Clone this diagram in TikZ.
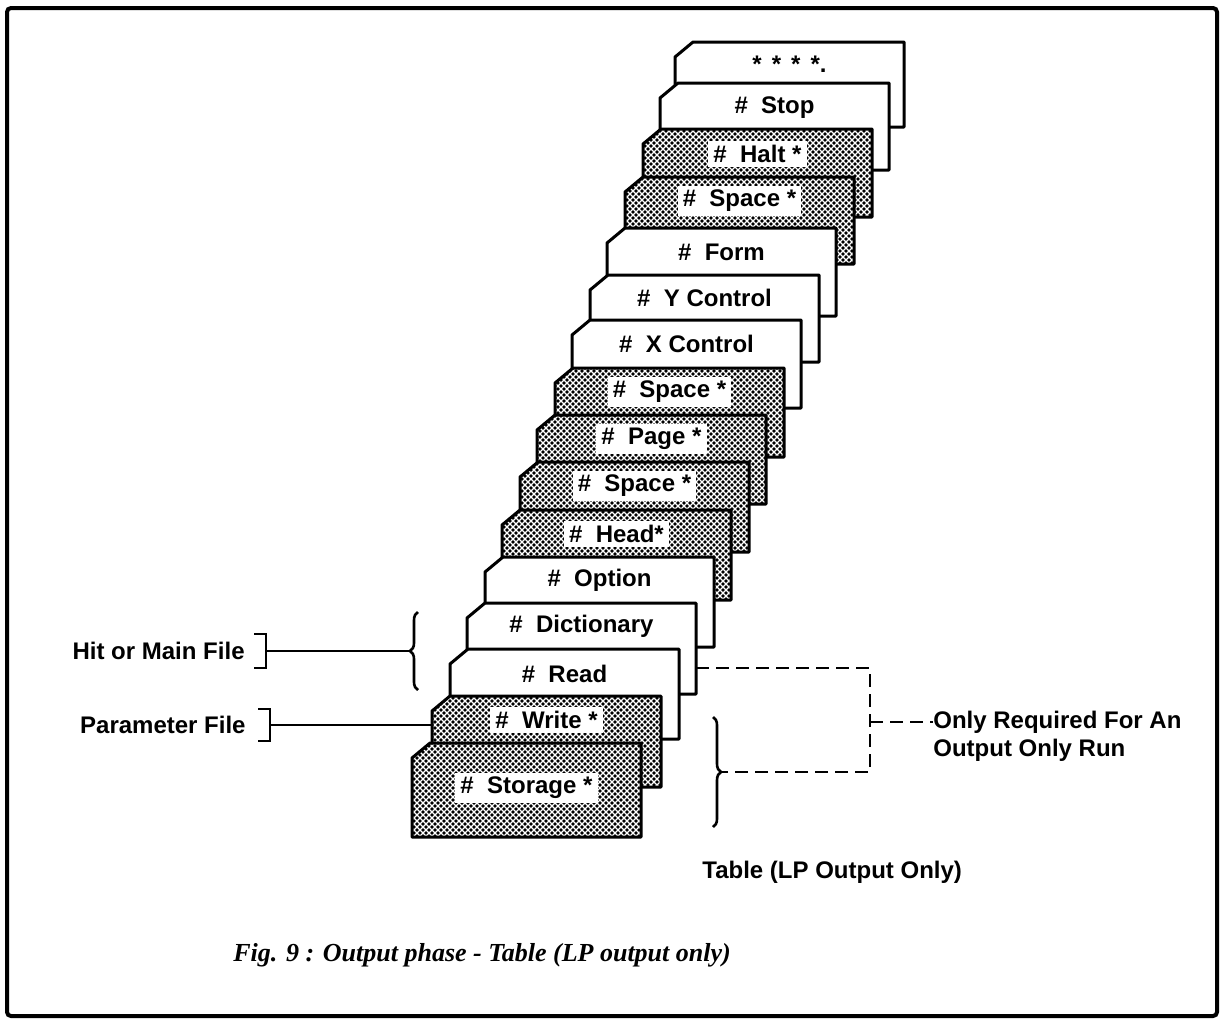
\documentclass[tikz,border=0pt]{standalone}
\usepackage{fontspec}
\setmainfont{Liberation Sans}
\newfontfamily\capfont{Liberation Serif}
\usetikzlibrary{patterns,decorations.pathreplacing,calc}
\pgfdeclarepatternformonly{carddots}{\pgfqpoint{-1.1pt}{-1.1pt}}{\pgfqpoint{2.6pt}{2.6pt}}{\pgfqpoint{3pt}{3pt}}{%
  \pgfpathcircle{\pgfqpoint{0pt}{0pt}}{0.93pt}%
  \pgfpathcircle{\pgfqpoint{1.5pt}{1.5pt}}{0.93pt}%
  \pgfusepath{fill}}
\tikzset{
  cardw/.style={draw=black, line width=1.5pt, line join=round, fill=white},
  cardd/.style={draw=black, line width=1.5pt, line join=round, fill=white, postaction={pattern=carddots}},
  lab/.style={font=\fontsize{12}{14}\selectfont\bfseries, fill=white, inner xsep=2.5pt, inner ysep=2pt},
  txt/.style={font=\fontsize{12}{14}\selectfont\bfseries, inner sep=0pt},
  brk/.style={line width=1.3pt},
  conn/.style={line width=1.2pt},
  dashc/.style={line width=1.4pt, dash pattern=on 6.5pt off 3.5pt},
  bracedec/.style={line width=1.3pt, decorate, decoration={brace, amplitude=4pt}},
}
\begin{document}
\begin{tikzpicture}[x=0.5pt, y=-0.5pt]
\useasboundingbox (0,0) rectangle (1220,1019);
\draw[line width=2pt, rounded corners=2pt] (7,8) rectangle (1217,1016);
% cards, back to front
\foreach \i/\x/\y/\h/\ty/\st/\lab in {
  15/675/42/85/22/cardw/{*\hspace{5pt}*\hspace{5pt}*\hspace{5pt}*.},
  14/660/83/87/25/cardw/{\#\ \ Stop},
  13/643/129/88/25/cardd/{\#\ \ Halt *},
  12/625/177/87/24/cardd/{\#\ \ Space *},
  11/607/228/88/24/cardw/{\#\ \ Form},
  10/590/275/87/23/cardw/{\#\ \ Y Control},
  9/572/320/88/24/cardw/{\#\ \ X Control},
  8/555/368/89/24/cardd/{\#\ \ Space *},
  7/537/415/89/24/cardd/{\#\ \ Page *},
  6/520/462/90/24/cardd/{\#\ \ Space *},
  5/502/510/90/24/cardd/{\#\ \ Head*},
  4/485/557/90/23/cardw/{\#\ \ Option},
  3/467/603/91/23/cardw/{\#\ \ Dictionary},
  2/450/649/90/25/cardw/{\#\ \ Read},
  1/432/696/91/24/cardd/{\#\ \ Write *},
  0/412/743/94/45/cardd/{\#\ \ Storage *}}{
  \coordinate (c\i-nw) at (\x,\y);
  \coordinate (c\i-ne) at (\x+229,\y);
  \draw[\st] (\x+18,\y) -- (\x+229,\y) -- (\x+229,\y+\h) -- (\x,\y+\h) -- (\x,\y+15) -- cycle;
  \node[lab] (l\i) at (\x+114.5,\y+\ty) {\lab};
}
% left labels
\node[txt, anchor=east] (hit) at (245,651) {Hit or Main File};
\coordinate (hitb) at (266,651);
\draw[brk] (hitb) ++(-12,-17) -- ++(12,0) -- ++(0,34) -- ++(-12,0);
\draw[bracedec] (418,690) -- (418,612);
\coordinate (hittip) at (410,651);
\draw[conn] (hitb) -- (hittip);

\node[txt, anchor=east] (par) at (246,725) {Parameter File};
\coordinate (parb) at (270,725);
\draw[brk] (parb) ++(-12,-16) -- ++(12,0) -- ++(0,32) -- ++(-12,0);
\draw[conn] (parb) -- (parb -| c1-nw);

% right side
\draw[bracedec] (713,717) -- (713,827);
\coordinate (rtip) at (721,772);
\coordinate (dstart) at ($(c3-ne)+(0,65)$);
\coordinate (dcorner1) at (870,668);
\coordinate (dcorner2) at (870,772);
\draw[dashc] (dstart) -- (dcorner1) -- (dcorner2) -- (rtip);
\node[txt, anchor=west, align=left] (only) at (933,736) {Only Required For An\\Output Only Run};
\coordinate (dmid) at (870,722);
\draw[dashc] (dmid) -- (dmid -| only.west);

\node[txt, anchor=west] (table) at (702,872) {Table (LP Output Only)};

\node[anchor=west, inner sep=0pt, font=\capfont\bfseries\itshape\fontsize{13}{15}\selectfont] (cap) at (233,955) {Fig. 9 : Output phase - Table (LP output only)};
\end{tikzpicture}
\end{document}
